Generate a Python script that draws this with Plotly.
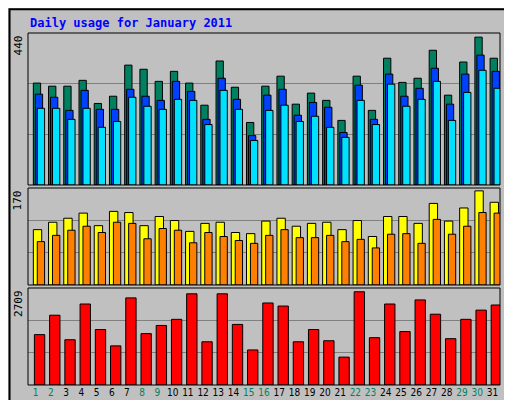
import plotly.graph_objects as go

days = list(range(1, 32))
weekend = [1, 2, 8, 9, 15, 16, 22, 23, 29, 30]

hits = [295, 286, 286, 303, 236, 257, 347, 335, 300, 329, 295, 231, 359, 283, 181, 286,
        315, 234, 266, 245, 187, 315, 216, 367, 297, 309, 390, 260, 356, 428, 367]
files = [263, 254, 216, 274, 219, 219, 277, 257, 245, 300, 271, 190, 309, 248, 143, 260,
         277, 202, 239, 225, 152, 289, 190, 321, 257, 280, 338, 234, 321, 376, 329]
pages = [222, 222, 190, 222, 167, 184, 254, 228, 219, 248, 245, 175, 274, 219, 129, 216,
         231, 184, 199, 167, 138, 245, 175, 292, 228, 248, 300, 187, 268, 332, 280]
sites = [97, 110, 117, 126, 104, 129, 127, 104, 120, 113, 94, 108, 110, 92, 90, 112,
         117, 103, 108, 110, 97, 113, 85, 120, 120, 108, 143, 112, 135, 165, 145]
visits = [76, 87, 96, 103, 92, 110, 108, 81, 99, 96, 74, 92, 85, 78, 73, 87,
          97, 83, 83, 87, 76, 80, 65, 89, 90, 73, 115, 89, 103, 127, 126]
kbytes = [1407, 1949, 1264, 2262, 1549, 1093, 2433, 1435, 1663, 1834, 2547, 1207, 2547, 1692,
          979, 2291, 2205, 1207, 1549, 1236, 779, 2604, 1321, 2262, 1492, 2376, 1977, 1293,
          1834, 2091, 2234]

W, H = 512, 400
X0, X1 = 20, 492
panels = [  # (yaxis, top px, bottom px, max)
    ("y", 25, 177, 440),
    ("y2", 180, 277, 170),
    ("y3", 280, 377, 2709),
]

fig = go.Figure()


def bar(vals, color, yaxis, offset, width, name):
    fig.add_trace(go.Bar(
        x=days, y=vals, yaxis=yaxis, offset=offset, width=width, name=name,
        marker=dict(color=color, line=dict(color="black", width=1)),
        showlegend=False, hoverinfo="y"
    ))


bar(hits, "#008060", "y", -0.15, 0.48, "Hits")
bar(files, "#0040ff", "y", -0.02, 0.48, "Files")
bar(pages, "#00e0ff", "y", 0.11, 0.48, "Pages")
bar(sites, "#ffff00", "y2", -0.15, 0.55, "Sites")
bar(visits, "#ff8000", "y2", 0.11, 0.48, "Visits")
bar(kbytes, "#ff0000", "y3", -0.08, 0.68, "KBytes")

tick_text = [f"<span style='color:#008060'>{d}</span>" if d in weekend else str(d) for d in days]

layout = dict(
    width=W, height=H, margin=dict(l=0, r=0, t=0, b=0),
    paper_bgcolor="#c0c0c0", plot_bgcolor="#c0c0c0", barmode="overlay",
    font=dict(family="DejaVu Sans Mono", size=11, color="black"),
    xaxis=dict(domain=[X0 / W, X1 / W], range=[0.5, 31.5], anchor="y3",
               tickvals=days, ticktext=tick_text, ticks="", showgrid=False,
               zeroline=False, tickangle=0, tickfont=dict(size=10,
                                                           family="Liberation Sans Narrow, DejaVu Sans Condensed")),
)
shapes = [dict(type="rect", xref="paper", yref="paper", x0=0.003, y0=0.003, x1=0.997, y1=0.997,
               line=dict(color="black", width=2))]
annotations = [dict(text="<b>Daily usage for January 2011</b>", x=X0 / W, y=1 - 15 / H,
                    xref="paper", yref="paper", xanchor="left", yanchor="middle", showarrow=False,
                    font=dict(color="#0000ff", size=12, family="DejaVu Sans Mono"))]
for i, (ya, top, bot, mx) in enumerate(panels):
    key = "yaxis" if i == 0 else f"yaxis{i + 1}"
    layout[key] = dict(domain=[1 - bot / H, 1 - top / H], range=[0, mx],
                       tickvals=[mx / 3, 2 * mx / 3], showticklabels=False,
                       gridcolor="#808080", gridwidth=1, zeroline=False)
    if i > 0:
        layout[f"xaxis{i + 1}"] = dict(overlaying="x", visible=False)
    shapes.append(dict(type="rect", xref="paper", yref="paper", x0=X0 / W, x1=X1 / W,
                       y0=1 - bot / H, y1=1 - top / H, line=dict(color="black", width=1)))
    annotations.append(dict(text=str(mx), x=X0 / W - 0.002, y=1 - top / H, xref="paper",
                            yref="paper", xanchor="right", yanchor="top", textangle=-90,
                            showarrow=False, font=dict(size=11)))

side = [
    ("<span style='color:#00e0ff'>Pages</span> / <span style='color:#0040ff'>Files</span>"
     " / <span style='color:#008060'>Hits</span>", 25),
    ("<span style='color:#ff8000'>Sites</span> / <span style='color:#ffff00'>Visits</span>", 180),
    ("<span style='color:#ff0000'>KBytes</span>", 280),
]
for txt, top in side:
    annotations.append(dict(text=txt, x=501 / W, y=1 - top / H, xref="paper", yref="paper",
                            xanchor="center", yanchor="top", textangle=-90, showarrow=False,
                            font=dict(size=11)))
layout["shapes"] = shapes
layout["annotations"] = annotations
fig.update_layout(**layout)

fig.write_html("out.html")
